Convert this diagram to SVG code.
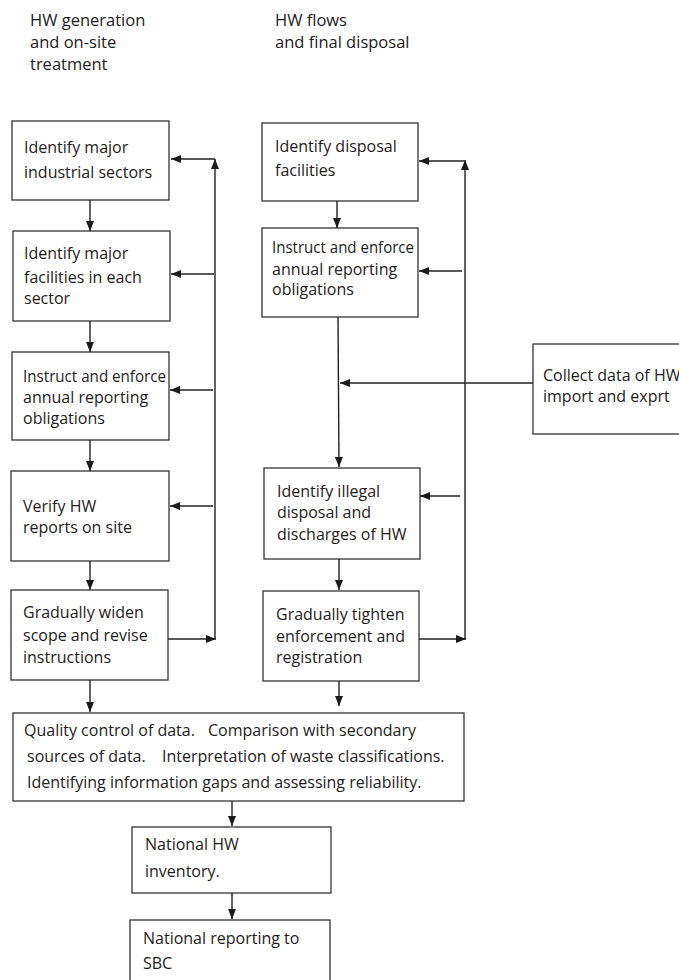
<svg xmlns="http://www.w3.org/2000/svg" width="679" height="980" viewBox="0 0 679 980">
<style>
  .box { fill: #ffffff; stroke: #333333; stroke-width: 1.3; }
  .t { font-family: "Open Sans", "Noto Sans", sans-serif; font-size: 16px; fill: #1f1b1c; }
  .h { font-size: 16.5px; }
  .c { fill: none; stroke: #222222; stroke-width: 1.4; marker-end: url(#ah); }
</style>
<defs>
  <marker id="ah" markerUnits="userSpaceOnUse" markerWidth="10" markerHeight="8" refX="10" refY="4" orient="auto">
    <path d="M0,0 L10,4 L0,8 z" fill="#1a1a1a"/>
  </marker>
</defs>
<rect width="679" height="980" fill="#ffffff"/>

<g id="headers">
  <text class="t h" x="30" y="26">HW generation</text>
  <text class="t h" x="30" y="48">and on-site</text>
  <text class="t h" x="30" y="70">treatment</text>
  <text class="t h" x="275" y="26">HW flows</text>
  <text class="t h" x="275" y="48">and final disposal</text>
</g>

<g id="n-identify-sectors">
  <rect class="box" x="12" y="121" width="157" height="79"/>
  <text class="t" x="24" y="153">Identify major</text>
  <text class="t" x="24" y="178">industrial sectors</text>
</g>
<g id="n-identify-facilities">
  <rect class="box" x="13" y="231" width="157" height="90"/>
  <text class="t" x="24" y="259">Identify major</text>
  <text class="t" x="24" y="283">facilities in each</text>
  <text class="t" x="24" y="304">sector</text>
</g>
<g id="n-instruct-left">
  <rect class="box" x="12" y="352" width="157" height="88"/>
  <text class="t" x="23" y="382" textLength="143" lengthAdjust="spacingAndGlyphs">Instruct and enforce</text>
  <text class="t" x="23" y="403">annual reporting</text>
  <text class="t" x="23" y="424">obligations</text>
</g>
<g id="n-verify">
  <rect class="box" x="11" y="471" width="158" height="90"/>
  <text class="t" x="23" y="512">Verify HW</text>
  <text class="t" x="23" y="533">reports on site</text>
</g>
<g id="n-widen">
  <rect class="box" x="11" y="590" width="157" height="90"/>
  <text class="t" x="23" y="618">Gradually widen</text>
  <text class="t" x="23" y="641">scope and revise</text>
  <text class="t" x="23" y="663">instructions</text>
</g>

<g id="n-identify-disposal">
  <rect class="box" x="262" y="123" width="156" height="78"/>
  <text class="t" x="275" y="152">Identify disposal</text>
  <text class="t" x="275" y="176">facilities</text>
</g>
<g id="n-instruct-right">
  <rect class="box" x="262" y="228" width="156" height="89"/>
  <text class="t" x="272" y="253" textLength="142" lengthAdjust="spacingAndGlyphs">Instruct and enforce</text>
  <text class="t" x="272" y="275">annual reporting</text>
  <text class="t" x="272" y="295">obligations</text>
</g>
<g id="n-collect">
  <rect class="box" x="533" y="344" width="160" height="90"/>
  <text class="t" x="543" y="381">Collect data of HW</text>
  <text class="t" x="543" y="402">import and exprt</text>
</g>
<g id="n-illegal">
  <rect class="box" x="264" y="468" width="156" height="91"/>
  <text class="t" x="277" y="497">Identify illegal</text>
  <text class="t" x="277" y="518">disposal and</text>
  <text class="t" x="277" y="540">discharges of HW</text>
</g>
<g id="n-tighten">
  <rect class="box" x="263" y="591" width="156" height="90"/>
  <text class="t" x="276" y="620">Gradually tighten</text>
  <text class="t" x="276" y="642">enforcement and</text>
  <text class="t" x="276" y="663">registration</text>
</g>

<g id="n-quality">
  <rect class="box" x="13" y="713" width="451" height="88"/>
  <text class="t" x="24" y="736">Quality control of data.</text>
  <text class="t" x="208" y="736">Comparison with secondary</text>
  <text class="t" x="27" y="762">sources of data.</text>
  <text class="t" x="162" y="762">Interpretation of waste classifications.</text>
  <text class="t" x="27" y="788">Identifying information gaps and assessing reliability.</text>
</g>
<g id="n-inventory">
  <rect class="box" x="132" y="827" width="199" height="66"/>
  <text class="t" x="145" y="850">National HW</text>
  <text class="t" x="145" y="877">inventory.</text>
</g>
<g id="n-sbc">
  <rect class="box" x="130" y="920" width="200" height="70"/>
  <text class="t" x="143" y="944">National reporting to</text>
  <text class="t" x="143" y="969">SBC</text>
</g>

<g id="connectors">
  <path class="c" d="M215,639 V159"/>
  <path class="c" d="M215,159 H171"/>
  <path class="c" d="M214,274 H171"/>
  <path class="c" d="M213,390 H170"/>
  <path class="c" d="M213,506 H170"/>
  <path class="c" d="M168,639 H216"/>
  <path class="c" d="M90,200 V231"/>
  <path class="c" d="M90,321 V352"/>
  <path class="c" d="M90,440 V471"/>
  <path class="c" d="M90,561 V590"/>
  <path class="c" d="M90,680 V712"/>

  <path class="c" d="M465,639 V160"/>
  <path class="c" d="M465,161 H419"/>
  <path class="c" d="M462,271 H419"/>
  <path class="c" d="M337,201 V228"/>
  <path class="c" d="M338,317 L339,467"/>
  <path class="c" d="M533,383 H340"/>
  <path class="c" d="M460,496 H420"/>
  <path class="c" d="M339,559 V590"/>
  <path class="c" d="M419,639 H466"/>
  <path class="c" d="M339,681 V706"/>

  <path class="c" d="M232,801 V826"/>
  <path class="c" d="M232,893 V919"/>
</g>
</svg>
